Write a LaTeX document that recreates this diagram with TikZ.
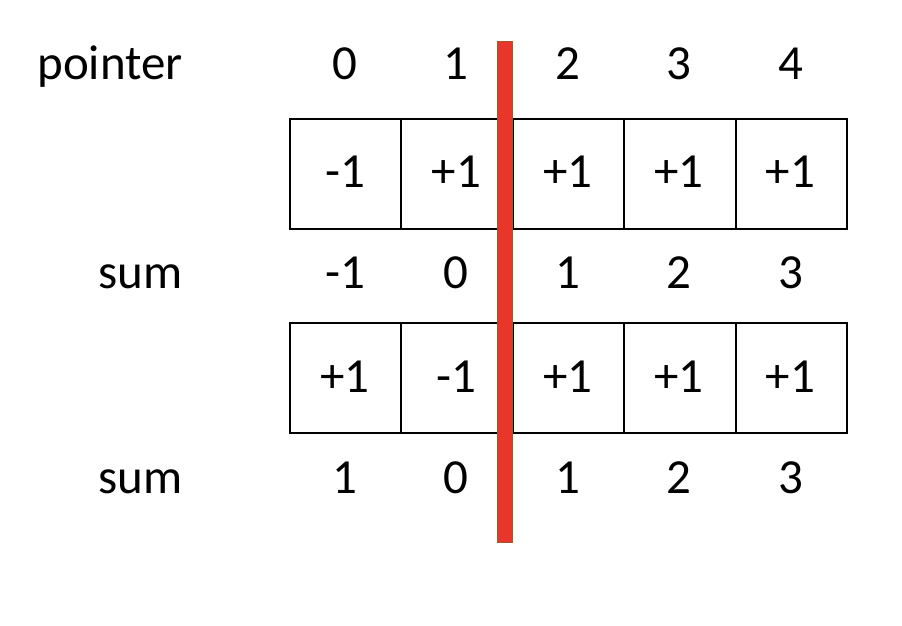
\documentclass[tikz,border=0pt]{standalone}
\usepackage{fontspec}
\setmainfont{Carlito}
\begin{document}
\begin{tikzpicture}[x=1pt,y=-1pt,
  txt/.style={anchor=base,inner sep=0pt,font=\fontsize{49}{56}\selectfont},
  lbl/.style={anchor=base east,inner sep=0pt,font=\fontsize{49}{56}\selectfont},
  cell/.style={draw=black,line width=2pt,minimum width=111.4pt,minimum height=110pt,inner sep=0pt,anchor=north west},
  ]
\definecolor{divred}{HTML}{E8372A}
\definecolor{divedge}{HTML}{9C5A2E}
\useasboundingbox[fill=white] (0,0) rectangle (902,626);
% boxes
\foreach \i in {0,...,4}{
  \node[cell] (a\i) at ({289+111.4*\i},118) {};
  \node[cell] (b\i) at ({289+111.4*\i},322) {};
}
% labels
\node[lbl] (lp) at (183,80) {pointer};
\node[lbl] (ls1) at (183,288) {sum};
\node[lbl] (ls2) at (183,493) {sum};
% rows
\foreach \v [count=\k from 0] in {0,1,2,3,4}
  \node[txt] (p\k) at ({345+111.4*\k},80) {\v};
\foreach \v [count=\k from 0] in {-1,+1,+1,+1,+1}
  \node[txt] (va\k) at ({345+111.4*\k},187) {\v};
\foreach \v [count=\k from 0] in {-1,0,1,2,3}
  \node[txt] (s\k) at ({345+111.4*\k},288) {\v};
\foreach \v [count=\k from 0] in {+1,-1,+1,+1,+1}
  \node[txt] (vb\k) at ({345+111.4*\k},392) {\v};
\foreach \v [count=\k from 0] in {1,0,1,2,3}
  \node[txt] (t\k) at ({345+111.4*\k},493) {\v};
% red divider
\fill[divred,draw=divedge,line width=1pt] (497.5,42) rectangle (512.5,542);
\end{tikzpicture}
\end{document}
